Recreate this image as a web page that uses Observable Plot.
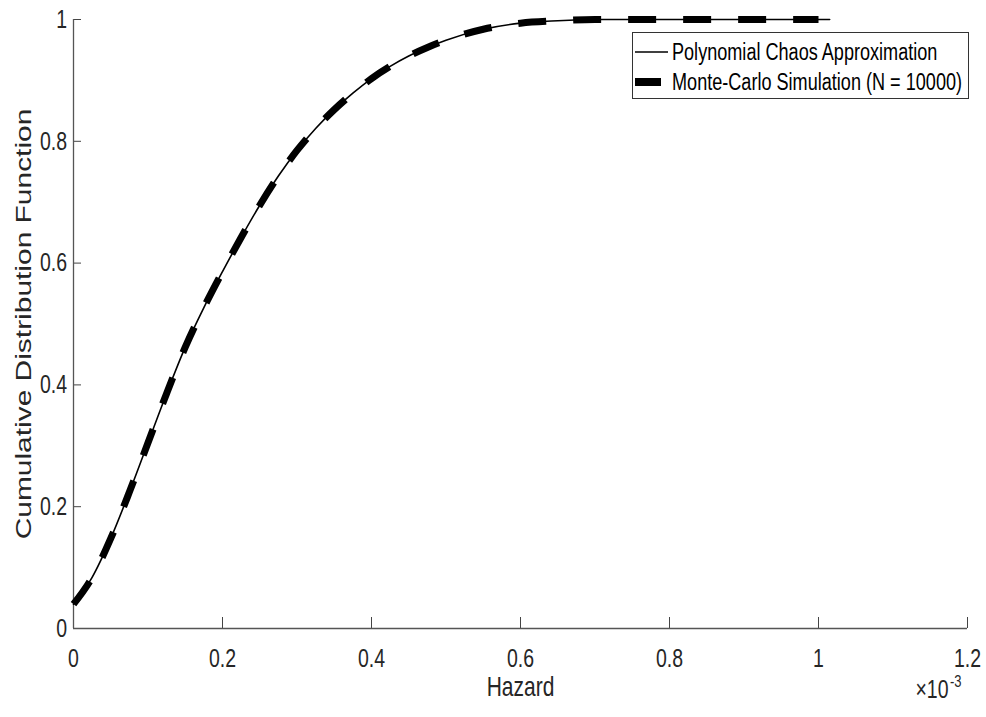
<!DOCTYPE html>
<html>
<head>
<meta charset="utf-8">
<script src="https://cdn.jsdelivr.net/npm/d3@7"></script>
<script src="https://cdn.jsdelivr.net/npm/@observablehq/plot@0.6"></script>
<style>
  html, body { margin: 0; padding: 0; background: #fff; }
  #wrap { position: relative; width: 986px; height: 717px; }
  #legend { position: absolute; left: 0; top: 0; pointer-events: none; }
</style>
</head>
<body>
<div id="wrap"></div>
<script>
// Hazard values (×10^-3)
const hazard = [0, 0.025, 0.05, 0.075, 0.1, 0.125, 0.15, 0.175, 0.2, 0.225, 0.25, 0.275, 0.3,
  0.325, 0.35, 0.375, 0.4, 0.425, 0.45, 0.475, 0.5, 0.55, 0.6, 0.65, 0.7, 0.8, 0.9, 1.0, 1.015];
// Polynomial chaos CDF
const cdfPC = [0.040, 0.084, 0.148, 0.224, 0.305, 0.386, 0.462, 0.527, 0.586, 0.642, 0.695, 0.743, 0.785,
  0.821, 0.852, 0.879, 0.903, 0.923, 0.940, 0.954, 0.966, 0.984, 0.994, 0.998, 1.0, 1.0, 1.0, 1.0, 1.0];
// Monte-Carlo CDF (ends at 1.0)
const cdfMC = [0.040, 0.084, 0.148, 0.224, 0.305, 0.386, 0.462, 0.527, 0.586, 0.642, 0.695, 0.743, 0.785,
  0.821, 0.852, 0.879, 0.903, 0.923, 0.940, 0.954, 0.966, 0.984, 0.994, 0.998, 1.0, 1.0, 1.0, 1.0];

const xTicks = [0, 0.2, 0.4, 0.6, 0.8, 1, 1.2];
const yTicks = [0, 0.2, 0.4, 0.6, 0.8, 1];
const seriesNames = ["Polynomial Chaos Approximation", "Monte-Carlo Simulation (N = 10000)"];
const xLabel = "Hazard";
const yLabel = "Cumulative Distribution Function";

const pc = hazard.map((h, i) => ({h, p: cdfPC[i]}));
const mc = cdfMC.map((p, i) => ({h: hazard[i], p}));

const TXT = "#262626";
const STRETCH = 1.33;

const plot = Plot.plot({
  width: 986,
  height: 717,
  marginLeft: 73,
  marginRight: 19,
  marginTop: 19,
  marginBottom: 89,
  style: {fontFamily: "Liberation Sans, Arial, sans-serif", background: "#fff", color: TXT, overflow: "visible"},
  x: {domain: [0, 1.2]},
  y: {domain: [0, 1]},
  marks: [
    Plot.axisX({ticks: xTicks, tickFormat: d => String(d), tickSize: -11, tickPadding: 31, fontSize: 19.5, stroke: "#444", fill: TXT, label: null}),
    Plot.axisY({ticks: yTicks, tickFormat: d => String(d), tickSize: -8, tickPadding: 14.5, fontSize: 19.5, stroke: "#444", fill: TXT, label: null}),
    Plot.ruleY([0], {stroke: "#555", strokeWidth: 1.3}),
    Plot.ruleX([0], {stroke: "#555", strokeWidth: 1.3}),
    Plot.line(pc, {x: "h", y: "p", curve: "monotone-x", stroke: "#000", strokeWidth: 1.6}),
    Plot.line(mc, {x: "h", y: "p", curve: "monotone-x", stroke: "#000", strokeWidth: 7, strokeDasharray: "28,27", strokeLinecap: "butt"}),
    Plot.text([xLabel], {frameAnchor: "bottom", dy: 67.5, textAnchor: "middle", fontSize: 21, fill: TXT}),
    Plot.text([yLabel], {frameAnchor: "left", dx: -50, rotate: -90, textAnchor: "middle", fontSize: 22.5, fill: TXT}),
    Plot.text(["×10"], {frameAnchor: "bottom-right", dx: -19, dy: 69.5, textAnchor: "end", fontSize: 19.5, fill: TXT}),
    Plot.text(["-3"], {frameAnchor: "bottom-right", dx: -17.5, dy: 58, textAnchor: "start", fontSize: 13, fill: TXT})
  ]
});

// emulate the vertical stretch of the original figure text
d3.select(plot).selectAll("text").each(function () {
  const t = this.getAttribute("transform") || "";
  const rotated = /rotate\(/.test(t);
  this.setAttribute("transform", t + (rotated ? ` scale(${STRETCH},1)` : ` scale(1,${STRETCH})`));
});

const wrap = document.getElementById("wrap");
wrap.appendChild(plot);

// Legend
const leg = d3.select(wrap).append("svg").attr("id", "legend").attr("width", 986).attr("height", 717);
leg.append("rect").attr("x", 632.5).attr("y", 32.5).attr("width", 336).attr("height", 66)
  .attr("fill", "#fff").attr("stroke", "#333").attr("stroke-width", 1);
leg.append("line").attr("x1", 635).attr("x2", 668).attr("y1", 52).attr("y2", 52)
  .attr("stroke", "#000").attr("stroke-width", 1.6);
leg.append("line").attr("x1", 635).attr("x2", 661).attr("y1", 82).attr("y2", 82)
  .attr("stroke", "#000").attr("stroke-width", 8);
seriesNames.forEach((name, i) => {
  leg.append("text")
    .attr("transform", `translate(672,${52 + 30 * i}) scale(1,${STRETCH})`)
    .attr("dy", "0.35em")
    .attr("font-family", "Liberation Sans, Arial, sans-serif")
    .attr("font-size", 18.1)
    .attr("fill", "#000")
    .text(name);
});
</script>
</body>
</html>
